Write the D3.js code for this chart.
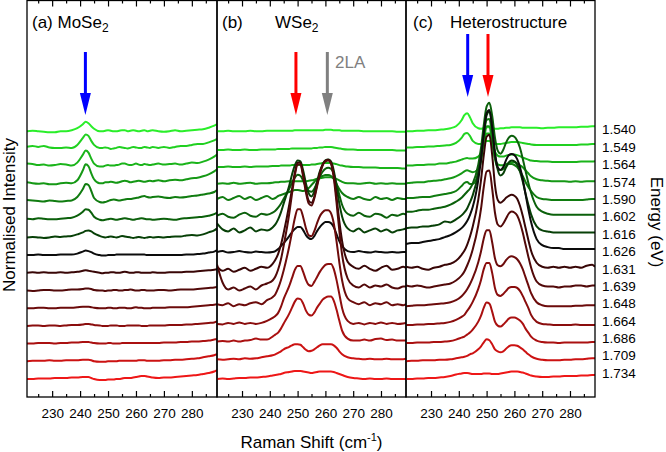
<!DOCTYPE html>
<html><head><meta charset="utf-8">
<script src="https://cdn.jsdelivr.net/npm/d3@7"></script>
<style>body{margin:0;background:#fff} svg{display:block}</style>
</head><body><svg id="chart" width="666" height="452"></svg>
<script>
// Raman shift sample positions (cm-1)
const ramanShift = [221,223,225,227,229,231,233,235,237,239, 241,242,243,244,245,
  247,248,249,250,251,252,253,254,255,256,257,258,259,260,261,262,263,264,265,266,
  268,270,272,274,276,278,280,282,284,286,288,289];
const energies = ["1.540","1.549","1.564","1.574","1.590","1.602","1.616","1.626","1.631","1.639","1.648","1.664","1.686","1.709","1.734"];
const lineColors = ["#2aee2a","#20d020","#1ab41a","#159815","#107c10","#0b600b","#074007","#0c0c0c","#380606","#520909","#6c0b0b","#8a0d0d","#aa1010","#cc1212","#ee1717"];
const majorTicks = [230,240,250,260,270,280];
const minorTicks = [225,235,245,255,265,275,285];
const shiftDomain = [221,289];

// (a) MoSe2 spectra, one per excitation energy (offset removed)
const mose2Spectra = [
 [0,0.5,0,-0.5,-1,-1,0,0,1,3, 7,9.5,8,5,2.5, 0,0,0.5,1,0.5,0,0,0.5,1,1,0,0.5,1,0.5,0,0.5,1,0,0.5,1, 0,-0.5,0,1,0,0.5,1,1.5,2,3.5,5.5,7],
 [2,3,2,3,1.5,1,1,1.5,1,4, 11,14.5,13,8,4, 1,1,1.5,1,0,0.5,1,2,1.5,1,0.5,1,2,1.5,1,1,2,1.5,1,2, 1,2,1,2,3,3,4,5,5,6.5,8.5,10],
 [3,2.5,1.5,2,1,1.5,2.5,2,1,4, 12,16,14,8,3, 0,0,1,1.5,1,1,1.5,2,3,3,2,1.5,2,3,2,1.5,2.5,2,1.5,2, 3,2,2.5,3,2,3,4,3.5,5,7,10,12],
 [2,1,0.5,1,0,0,1,1.5,1,4, 14,20,18,11,5, 1,1,2,2,2.5,2,1.5,2,3,3.5,3,2,2.5,3,3.5,3,2.5,3,3.5,3, 4,3,4,4.5,4,5,6,6.5,8,10,13,15],
 [2,1.5,1,0.5,1.5,1,0.5,1,1.5,5, 13,18,17,11,4, 0,-0.5,0,1,2,2.5,2,1.5,2,2.5,3,3,3.5,4,4.5,5.5,6,5,4.5,5, 5.5,4.5,4,5,4.5,5,6,6.5,7.5,8.5,10,12],
 [1,0.5,1.5,1,0.5,0.5,1,1.5,2,4, 8,10.5,10,7,3, 0,-0.5,0,0.5,1,0.5,0,0.5,1,1.5,1,0.5,0,0.5,1,1.5,1,0.5,0.5,0, 0.5,1,0.5,0,1,1.5,2,2.5,3,4,5.5,7],
 [0,0.5,0,-0.5,0,1,0.5,1,1.5,3, 5,6.5,7,6,4, 1.5,0.5,0,0.5,1,0.5,0,0.5,1.5,1,0.5,0,-0.5,0,0.5,0,-0.5,0,0.5,0, 0.5,0,0.5,1,1,2,2.5,2,3,5,7,9],
 [0,0,0.5,0,0,0,0.5,0.5,0.5,1.5, 3.5,4.5,4,3,1.5, 0,-0.5,-0.5,0,0,0,0.5,0.5,0.5,0.5,0.5,0.5,0.5,0.5,0.5,0.5,0.5,0,0,0, 0,0,0,0,0,0.5,0.5,1,1.5,2.5,3.5,5],
 [0,0.5,0,0.5,0,0,0.5,0,0.5,1, 2,2.5,2,1.5,1, 0,-0.5,0,0,0.5,0.5,0,0,0.5,1,0.5,0,0,0.5,0.5,0,0,0,0,0.5, 0,0,0.5,0.5,0.5,1,1,1.5,2,2.5,3,3.5],
 [0,-0.5,0,0.5,0.5,0,0,0.5,1,1, 1.5,2,2,1.5,0.5, 0,0,-0.5,0,0,0.5,0.5,0,0,0.5,0.5,1,0.5,0,0,0.5,0.5,0,0,0, 0.5,0.5,0,0.5,1,1,1,1.5,2,2.5,3,3.5],
 [0,0,0.5,0.5,0,0,0.5,0.5,0.5,1, 1.5,1.5,1.5,1,0.5, 0,0,0,0.5,0.5,0,0,0.5,0.5,0.5,0,0,0.5,1,0.5,0.5,0,0,0,0.5, 0.5,0.5,1,1,1,1,1.5,2,2.5,3,3.5,4],
 [0,0.5,0.5,0,0.5,0.5,0,0.5,1,1, 1.5,2,2,1.5,1, 0.5,0,0,0,0.5,0.5,0.5,0,0,0,0.5,0.5,0.5,0.5,0.5,0,0,0,0.5,0.5, 0.5,0.5,1,1,1,1.5,1.5,2,2.5,3,3.5,4.5],
 [0,0,0.5,0.5,0.5,0,0.5,0.5,1,1, 1.5,1.5,1.5,1,0.5, 0,0,0,0.5,0.5,0,0,0,0.5,0.5,0.5,0.5,0.5,0.5,0.5,0.5,0.5,0.5,0.5,0.5, 0.5,1,1,1,1.5,1.5,2,2,2.5,3,4,4.5],
 [0,0.5,0.5,0.5,1,0.5,0.5,1,1,1, 1.5,1.5,1.5,1,0, -0.5,-0.5,-0.5,0,0,0,0,0.5,0.5,0.5,0.5,0.5,0.5,0.5,1,1,1,0.5,0.5,0.5, 0.5,1,1,1.5,1.5,2,2.5,3,4,5,6,7],
 [0,0,0.5,0.5,0.5,1,1,1,1.5,1.5, 2,2,2,1,0, -1,-1,-1,-0.5,-0.5,-0.5,0,0,0.5,1,1,1,1.5,2,2.5,3,3,2.5,2,1.5, 1,1.5,1.5,2,2.5,3,3.5,4,5,6,7.5,9]
];

// (b) WSe2 spectra
const wse2Spectra = [
 [0,0,0.5,0,0,0,0.5,0,0,0.5, 0.5,0.5,0.5,0.5,0.5, 0.5,0.5,1,1,1,1,1,1,1,1,1,1,1,1.5,1.5,1.5,1,1,1,0.5, 0.5,0.5,0.5,0,0,0,0,0,0,-0.5,-0.5,-0.5],
 [-1,-1,-0.5,-1,-1,-0.5,-1,-1,-0.5,-0.5, -0.5,-0.5,0,0,0, 0,0.5,0.5,0.5,0.5,0.5,0.5,0.5,0.5,1,1,1.5,1.5,2,2,2,1.5,1,0.5,0, -0.5,-0.5,-1,-1,-1,-1,-1,-1,-1,-1.5,-1.5,-1.5],
 [-0.5,-0.5,0,-0.5,-0.5,0,-0.5,0,0,0, 0.5,0.5,0.5,1,1, 1,1.5,1.5,1.5,1.5,1.5,1.5,1.5,2,2,2.5,3,3.5,3.5,3.5,3.5,3,2.5,1.5,1, 0,-0.5,-0.5,-1,-1,-1,-1.5,-1.5,-1.5,-1.5,-2,-2],
 [0.5,1,0.5,1.5,0.5,1,1.5,0.5,1,1, 1.5,2,2,2.5,2.5, 3,3,3,3,3,3,3,3.5,4,4.5,5.5,6,6.5,7,7,7,6.5,5.5,4,2.5, 1,1,0.5,1,1.5,0.5,1,0.5,1,0.5,0.5,0.5],
 [3,5,2,4,6,3,5,2,4,6, 3,4,6,7,8, 10,11,12,12,11.5,11,12,14,17,20,23,25,26,27,27,26,23,18,13,9, 5,3,5,3,2,5,3,4,2,4,3,3],
 [4,6,3,2,5,7,4,3,6,5, 7,9,12,16,21, 31,37,42,45,44,39,33,29,28,31,37,43,48,51,52,51,46,36,25,15, 6,4,7,4,3,6,5,2,5,4,6,5],
 [14,8,6,9,5,7,10,6,8,7, 10,13,18,25,34, 52,63,72,77,76,67,54,44,41,46,56,66,73,77,78,76,67,51,34,21, 9,6,9,5,7,9,6,8,5,7,8,9],
 [3,4,2.5,3,4,3,2.5,3.5,3,2.5, 3,4,6,9,12, 19,23,26,28,28,25,20,17,16,19,24,28,31,33,33,32,28,21,14,9, 4,3,4,3,2.5,3.5,3,2.5,3,2.5,3,3],
 [6,2,4,1,3,5,2,4,6,5, 9,13,19,28,40, 68,84,100,110,110,98,83,72,70,76,88,100,108,112,113,110,98,76,52,32, 11,6,4,7,4,2,5,7,3,4,6,5],
 [26,8,1,3,0,2,4,1,5,7, 10,14,21,31,45, 77,97,115,126,126,114,98,87,85,92,104,116,125,129,130,127,113,88,60,36, 12,5,3,6,3,5,4,6,3,2,4,4],
 [4,3,5,2,4,3,5,6,4,8, 11,14,20,28,38, 62,76,90,99,99,91,80,73,72,77,85,92,96,98,98,95,85,67,46,28, 10,6,4,6,3,5,4,6,3,4,3,4],
 [2,1.5,3,2,3.5,2,3,2,3,5, 8,10,13,19,27, 40,48,56,60,60,54,46,41,40,44,49,54,58,61,62,62,57,46,32,18, 5,2,3,1.5,3,2,3.5,2,3,2,2.5,3],
 [2,2.5,2,3,2,3,3.5,5,4,4, 7,9,11,15,20, 30,36,42,45,44.5,40,33,29,28,31,36,40,44,46,47,47,43,34,23,13, 5,3,3,4,3,4.5,5,3.5,4,3,3,3],
 [2,1.5,2,2.5,2,3,2.5,3,4,5, 6,7,8.5,10,12, 14.5,16,17,17,16.5,14,11.5,10,10.5,12,14,16,17,17,17,17,16,13.5,10,7, 4,3,2.5,2,2.5,2,2,2.5,2,2,2,2.5],
 [0,0.5,0,0.5,1,1,1.5,1.5,2,2.5, 3.5,4,4.5,5,6, 7,7.5,8,8,8,7.5,7,6.5,6,6.5,7,7.5,7.5,7.5,7.5,7.5,7,6,5,4, 2,1,0.5,0,0.5,0,0,0.5,0,0,0,0]
];

// (c) Heterostructure spectra
const heteroSpectra = [
 [0,0,0.5,0.5,1,1,1.5,2,3,5, 11,16,18,14,8, 3,2.5,3,4,4,3,2.5,2.5,3,3,3.5,3.5,4,4,4,4,3.5,3.5,3.5,3.5, 3.5,3,3.5,3.5,4,4,4,4,4.5,4.5,5,5],
 [1.5,1.5,2,2,2.5,2.5,3,3.5,4,6, 11,15,16,13,8, 5,5,6,8,8,6,5,5,5,5.5,6,6.5,7,7,7,6.5,6,5.5,5,4.5, 4,4,4,4,4,4,4,4,4.5,4.5,5,5],
 [1,1,1.5,1.5,2,2,3,3,4,5, 7,8,8.5,8,8, 10,14,24,33,33,24,15,11,10,10,11,11.5,12,12,11.5,10.5,9,8,7,6, 5.5,5,5,4.5,4.5,4.5,4.5,4.5,5,5,5,5.5],
 [1,1.5,2,2,3,3.5,4,5,6,8, 11,13,14,13,12, 15,23,42,58,58,42,26,20,19,19,20,21,22,22,21,19,17,14,11,8, 5,4,3.5,3,3,3,2.5,3,2.5,3,3,3],
 [4,4,4.5,5,5,6,7,8,9,11, 16,19,20,18,18, 30,45,67,82,83,66,44,34,32,33,36,38,38,37,35,31,26,20,15,11, 5,3,2.5,2,2,2,2,2,2,2.5,3,3],
 [8,8,9,10,10,11,12,13,15,18, 22,25,28,31,36, 55,72,95,113,117,104,82,69,66,70,77,82,84,83,79,72,61,49,37,27, 13,8,6,5,5,5,5,5,5,5,5,5],
 [9,10,10,11,11,12,13,16,15,18, 22,25,29,35,42, 64,82,104,122,126,110,84,68,62,64,70,75,77,76,73,66,56,44,33,23, 11,7,6,5,5,5,5,5,5,5,5,5],
 [11,12,12,13,14,15,16,18,20,23, 27,30,34,40,48, 75,96,122,142,145,128,102,88,85,88,95,100,101,100,96,88,76,61,46,33, 16,10,8,7,7,6,6,6,6,6,6,6],
 [6,5,6,4,3,5,6,8,9,12, 18,22,28,36,46, 73,93,118,136,138,118,88,73,70,72,75,77,78,77,74,67,57,45,33,22, 10,6,5,6,5,6,5,6,5,7,8,6],
 [5,4,5,4,3,4,5,6,7,10, 15,19,25,32,41, 65,82,104,119,120,102,78,66,64,67,72,77,79,78,75,68,58,46,34,23, 9,5,4,4,3,4,4,5,5,4,5,5],
 [2,2.5,3,3,3.5,4,4.5,5,6,8, 12,15,19,24,30, 46,57,70,78,78,66,50,43,42,44,48,51,52,51,49,45,39,31,23,15, 6,3,2,2,2,2,2,2.5,2.5,3,3,3],
 [1,1,1.5,1.5,2,2,2.5,3,4,6, 9,11,15,19,24, 37,46,57,63,63,53,38,31,30,32,35,38,39,39,38,35,30,24,18,11, 4,2,1.5,1,1,1,1,1.5,1,1,1,1],
 [0.5,0.5,1,1,1,1.5,1.5,2,2.5,4, 6,7,9,11,14, 22,28,36,41,40,32,22,18,17,19,22,25,26,26,25,23,20,15,11,7, 3,1.5,1,1,0.5,1,1,1,1,1,1.5,1.5],
 [0,0.5,0.5,1,1,1,1.5,1.5,2,3, 4,4.5,5.5,7,8, 12,15,19,22,21,17,12,10,9,10,12.5,15,16,16,15.5,14,12,9.5,7,5, 2.5,1.5,1,1,1,1.5,1.5,2,2,2.5,3,3],
 [0,0,0.5,0.5,1,1,1.5,2,3,4.5, 5.5,6,6,5.5,5, 5,5,5.5,5.5,5.5,5,5,5,5.5,6,6.5,7,7.5,7.5,7.5,7,6.5,5.5,4.5,3.5, 2.5,2,2,2.5,2.5,3,3,3,3.5,3.5,4,4]
];

// arrow annotations: Raman shift positions per panel
const arrowShifts = [[241.9],[249.4,260.7],[243.2,250.5]];
const arrowColors = [["#0000ff"],["#ff0000","#808080"],["#0000ff","#ff0000"]];

const FONT = "Arial, 'Liberation Sans', Helvetica, sans-serif";
const svg = d3.select("#chart").style("font-family", FONT);
const plotTop = 0.5, plotBottom = 397;
const panelX = [[27,217],[217,406],[406,595]];
const offsetStep = 17.7;
const y = d3.scaleLinear().domain([-18, 379]).range([plotBottom, 0]);
const allSpectra = [mose2Spectra, wse2Spectra, heteroSpectra];
const arrowGeom = [[52,93,115],[52,93,115],[34,75,97]];

allSpectra.forEach((spectra, k) => {
  const [x0, x1] = panelX[k];
  const x = d3.scaleLinear().domain(shiftDomain).range([x0, x1]);
  const clipId = "clip" + k;
  svg.append("clipPath").attr("id", clipId).append("rect")
    .attr("x", x0).attr("y", 0).attr("width", x1 - x0).attr("height", plotBottom);
  const line = d3.line().x((d, j) => x(ramanShift[j])).y(d => y(d)).curve(d3.curveMonotoneX);
  svg.append("g").attr("clip-path", `url(#${clipId})`)
    .selectAll("path").data(spectra).join("path")
    .attr("d", (s, i) => line(s.map(v => v + (14 - i) * offsetStep)))
    .attr("fill", "none").attr("stroke", (s, i) => lineColors[i])
    .attr("stroke-width", 2).attr("stroke-linejoin", "round");

  // axes (inward ticks)
  const addAxis = (gen, ty, vals, size, labels) => {
    const a = gen(x).tickValues(vals).tickSize(-size).tickSizeOuter(0).tickPadding(11);
    if (!labels) a.tickFormat("");
    const g = svg.append("g").attr("transform", `translate(0,${ty})`).call(a);
    g.select(".domain").remove();
    g.selectAll("line").attr("stroke", "#000").attr("stroke-width", 1.2);
    g.selectAll("text").attr("font-size", "13.5px").attr("font-family", FONT).attr("fill", "#000");
  };
  addAxis(d3.axisBottom, plotBottom, majorTicks, 6, true);
  addAxis(d3.axisBottom, plotBottom, minorTicks, 3, false);
  addAxis(d3.axisTop, plotTop, majorTicks, 6, false);
  addAxis(d3.axisTop, plotTop, minorTicks, 3, false);

  svg.append("rect").attr("x", x0).attr("y", plotTop).attr("width", x1 - x0)
    .attr("height", plotBottom - plotTop).attr("fill", "none")
    .attr("stroke", "#000").attr("stroke-width", 1.3);

  // arrows
  const [top, headTop, tip] = arrowGeom[k];
  arrowShifts[k].forEach((s, m) => {
    const ax = x(s), col = arrowColors[k][m];
    svg.append("line").attr("x1", ax).attr("x2", ax).attr("y1", top).attr("y2", headTop + 1)
      .attr("stroke", col).attr("stroke-width", 3);
    svg.append("path").attr("d", `M${ax - 5.5},${headTop}L${ax + 5.5},${headTop}L${ax},${tip}Z`).attr("fill", col);
  });
});

// panel titles
function titleText(xp, main, sub) {
  const t = svg.append("text").attr("x", xp).attr("y", 27.5).attr("font-size", "17px").attr("fill", "#000");
  t.append("tspan").text(main);
  if (sub) {
    t.append("tspan").attr("font-size", "12px").attr("dy", 4).text(sub);
  }
}
titleText(32, "(a) MoSe", "2");
titleText(222, "(b)", null);
titleText(275, "WSe", "2");
titleText(413, "(c)", null);
titleText(450, "Heterostructure", null);

svg.append("text").attr("x", 335).attr("y", 68).attr("font-size", "17px").attr("fill", "#808080").text("2LA");

// energy labels
const labelY = d3.scaleLinear().domain([0, 14]).range([129.5, 373]);
svg.append("g").selectAll("text").data(energies).join("text")
  .attr("x", 602).attr("y", (d, i) => labelY(i)).attr("dy", "0.36em")
  .attr("font-size", "13.5px").attr("fill", "#000").text(d => d);

// axis titles
svg.append("text").attr("transform", "translate(15,215) rotate(-90)")
  .attr("text-anchor", "middle").attr("font-size", "17px").text("Normalised Intensity");
svg.append("text").attr("transform", "translate(651,222) rotate(90)")
  .attr("text-anchor", "middle").attr("font-size", "17px").text("Energy (eV)");
const xt = svg.append("text").attr("x", 311.5).attr("y", 448).attr("text-anchor", "middle").attr("font-size", "17px");
xt.append("tspan").text("Raman Shift (cm");
xt.append("tspan").attr("font-size", "11px").attr("dy", -7).text("-1");
xt.append("tspan").attr("dy", 7).text(")");
</script></body></html>
